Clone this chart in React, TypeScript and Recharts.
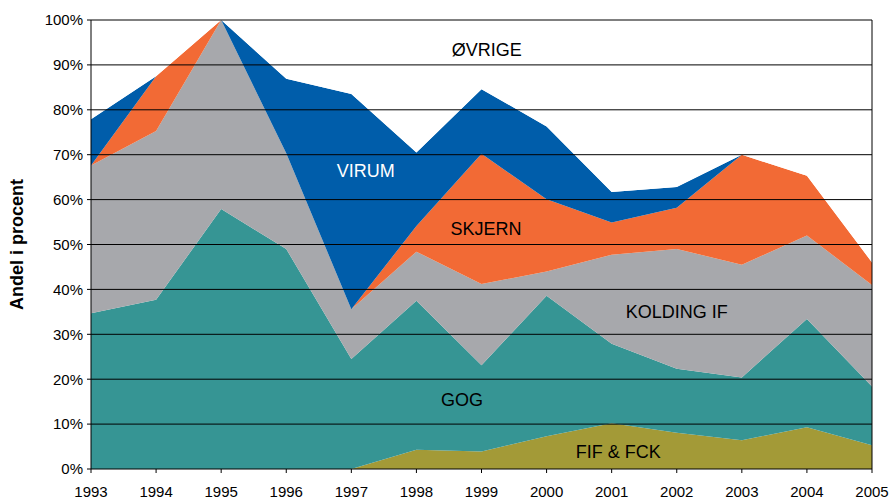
import React from 'react';
import { AreaChart, Area, XAxis, YAxis, ReferenceLine, ReferenceDot } from 'recharts';

const years = [1993, 1994, 1995, 1996, 1997, 1998, 1999, 2000, 2001, 2002, 2003, 2004, 2005];
const fifFck = [0, 0, 0, 0, 0, 4.3, 3.9, 7.3, 10.2, 8.1, 6.4, 9.3, 5.3];
const gog = [34.7, 37.7, 57.9, 49.0, 24.5, 33.2, 19.2, 31.3, 17.7, 14.2, 14.0, 24.1, 13.1];
const koldingIf = [32.9, 37.6, 42.1, 21.3, 11.1, 10.9, 18.1, 5.4, 19.8, 26.7, 25.1, 18.6, 22.6];
const skjern = [0, 12.2, 0, 0, 0, 5.7, 29.0, 16.1, 7.2, 9.2, 24.5, 13.3, 5.0];
const virum = [10.3, 0, 0, 16.6, 47.9, 16.4, 14.4, 16.2, 6.8, 4.6, 0, 0, 0];
const ovrige = [22.1, 12.5, 0, 13.1, 16.5, 29.5, 15.4, 23.7, 38.3, 37.2, 30.0, 34.7, 54.0];

const yTicks = [0, 10, 20, 30, 40, 50, 60, 70, 80, 90, 100];
const gridValues = [10, 20, 30, 40, 50, 60, 70, 80, 90, 100];

const areaLabels = [
  { text: 'ØVRIGE', x: 1999.08, y: 93.3, color: '#000000' },
  { text: 'VIRUM', x: 1997.22, y: 66.4, color: '#ffffff' },
  { text: 'SKJERN', x: 1999.07, y: 53.5, color: '#000000' },
  { text: 'KOLDING IF', x: 2002.0, y: 35.0, color: '#000000' },
  { text: 'GOG', x: 1998.7, y: 15.4, color: '#000000' },
  { text: 'FIF & FCK', x: 2001.1, y: 3.85, color: '#000000' },
];

const data = years.map((year, i) => ({
  year,
  fif: fifFck[i],
  gog: gog[i],
  kolding: koldingIf[i],
  skjern: skjern[i],
  virum: virum[i],
  ovrige: ovrige[i],
}));

const FONT = 'Arial, "Liberation Sans", sans-serif';

export default function App() {
  return (
    <div style={{ position: 'absolute', left: 0, top: 0, width: 889, height: 499, background: '#fff' }}>
      <AreaChart
        width={889}
        height={499}
        data={data}
        margin={{ top: 20, right: 17, bottom: 0, left: 0 }}
        style={{ fontFamily: FONT }}
      >
        <XAxis
          dataKey="year"
          type="number"
          domain={[1993, 2005]}
          ticks={years}
          interval={0}
          height={30}
          tickSize={4}
          tickMargin={13}
          axisLine={{ stroke: '#000' }}
          tickLine={{ stroke: '#000' }}
          tick={{ fill: '#000', fontSize: 15, fontFamily: FONT }}
        />
        <YAxis
          type="number"
          domain={[0, 100]}
          ticks={yTicks}
          interval={0}
          width={91}
          tickSize={4}
          tickMargin={4}
          tickFormatter={(v: number) => `${v}%`}
          axisLine={{ stroke: '#000' }}
          tickLine={{ stroke: '#000' }}
          tick={{ fill: '#000', fontSize: 15, fontFamily: FONT }}
          label={{
            value: 'Andel i procent',
            angle: -90,
            position: 'insideLeft',
            offset: 17,
            style: { textAnchor: 'middle', fontWeight: 'bold', fontSize: 18, fill: '#000', fontFamily: FONT },
          }}
        />
        <Area type="linear" dataKey="fif" stackId="1" stroke="none" fill="#A39A37" fillOpacity={1} isAnimationActive={false} />
        <Area type="linear" dataKey="gog" stackId="1" stroke="none" fill="#369594" fillOpacity={1} isAnimationActive={false} />
        <Area type="linear" dataKey="kolding" stackId="1" stroke="none" fill="#A7A8AC" fillOpacity={1} isAnimationActive={false} />
        <Area type="linear" dataKey="skjern" stackId="1" stroke="none" fill="#F26A35" fillOpacity={1} isAnimationActive={false} />
        <Area type="linear" dataKey="virum" stackId="1" stroke="none" fill="#005DAA" fillOpacity={1} isAnimationActive={false} />
        <Area type="linear" dataKey="ovrige" stackId="1" stroke="none" fill="#ffffff" fillOpacity={1} isAnimationActive={false} />
        {gridValues.map((v) => (
          <ReferenceLine key={v} y={v} stroke="#000" strokeWidth={1} ifOverflow="extendDomain" />
        ))}
        <ReferenceLine x={2005} stroke="#000" strokeWidth={1} />
        {areaLabels.map((l) => (
          <ReferenceDot
            key={l.text}
            x={l.x}
            y={l.y}
            r={0}
            fill="none"
            stroke="none"
            label={{ value: l.text, position: 'center', fill: l.color, fontSize: 18, fontFamily: FONT }}
          />
        ))}
      </AreaChart>
    </div>
  );
}
